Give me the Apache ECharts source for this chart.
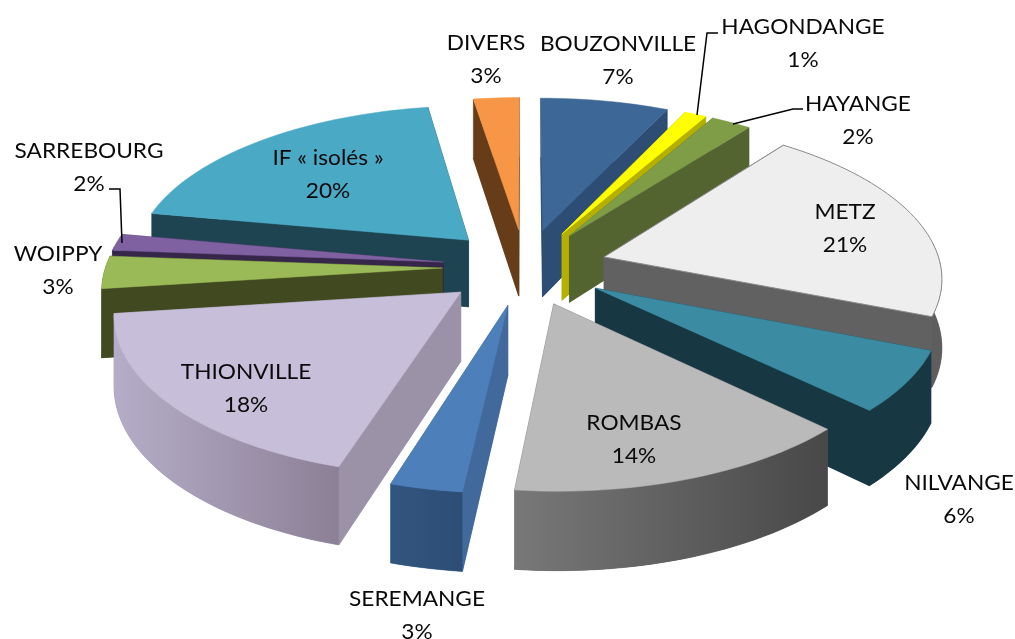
<!DOCTYPE html>
<html><head><meta charset="utf-8">
<style>html,body{margin:0;padding:0;background:#fff}#c{width:1015px;height:639px}</style>
<script src="https://cdn.jsdelivr.net/npm/echarts@6/dist/echarts.min.js"></script>
</head><body><div id="c"></div>
<script>
const categories = ['BOUZONVILLE','HAGONDANGE','HAYANGE','METZ','NILVANGE','ROMBAS','SEREMANGE','THIONVILLE','WOIPPY','SARREBOURG','IF « isolés »','DIVERS'];
const shares = [7,1.2,2.2,20.7,6.2,14.49,3,18.2,3.3,1.7,19.6,2.5];
const topColors = ['#3d6797','#ffff00','#7f9c47','#eeeeee','#3b8ca3','#bababa','#4d7fbb','#c7bfd9','#9aba58','#7f60a1','#4aaac5','#f79647'];
const wallColors = ['#2d4d75','#b5b000','#546430','#616161','#173743','#555555','#41699b','#9b92a8','#40491f','#35264a','#1e4452','#673c18'];
const rimLeft = ['#2d4d75','#b5b000','#546430','#808080','#173743','#787878','#32557f','#b5adc8','#40491f','#35264a','#1e4452','#673c18'];
const rimRight = ['#2d4d75','#b5b000','#546430','#5e5e5e','#173743','#484848','#2d4d75','#8c8096','#40491f','#35264a','#1e4452','#673c18'];
const labelCentres = [[618,60],[803,43],[858,120],[845,228],[959,499],[634,439],[417,615],[246,388],[58,270],[89,167],[328,174],[486,59]];
const leaders = [[[718,33],[707,33],[697,115]],[[803,109],[793,109],[733,124]],[[109,189],[120,189],[122,243]]];
const view = {cx:525,cy:267,rx:337,ry:156,k:0.117,explode:0.245,depth:68};

function project(X,Y,down){
  const s=1/(1+view.k*Y);
  return [view.cx+view.rx*X*s, view.cy-view.ry*Y*s+(down?view.depth*s:0)];
}
const total = shares.reduce((a,b)=>a+b,0);
let acc=0;
const slices = shares.map((v,i)=>{
  const a0=acc/total*Math.PI*2; acc+=v; const a1=acc/total*Math.PI*2;
  const m=(a0+a1)/2;
  return {i,a0,a1,m,ox:Math.sin(m)*view.explode,oy:Math.cos(m)*view.explode};
});
const order = slices.slice().sort((p,q)=>Math.cos(q.m)-Math.cos(p.m)).map(s=>s.i);

function arcPts(sl,from,to,down){
  const n=Math.max(2,Math.ceil((to-from)/0.03)),pts=[];
  for(let j=0;j<=n;j++){const t=from+(to-from)*j/n;pts.push(project(sl.ox+Math.sin(t),sl.oy+Math.cos(t),down));}
  return pts;
}
function poly(points,fill,z2,extra){
  return Object.assign({type:'polygon',shape:{points},style:{fill,stroke:fill,lineWidth:0.5},z2,silent:true},extra||{});
}
function renderItem(params,api){
  const idx=api.value(1),sl=slices[idx],rank=order.indexOf(idx)*10,children=[];
  const apexT=project(sl.ox,sl.oy,false),apexB=project(sl.ox,sl.oy,true);
  children.push(poly([apexB].concat(arcPts(sl,sl.a0,sl.a1,true)),wallColors[idx],rank));
  const w=[sl.a0,sl.a1].sort((p,q)=>Math.cos(q)-Math.cos(p));
  w.forEach((a,j)=>{
    const e=[sl.ox+Math.sin(a),sl.oy+Math.cos(a)];
    children.push(poly([apexT,project(e[0],e[1],false),project(e[0],e[1],true),apexB],wallColors[idx],rank+1+j));
  });
  const f0=Math.max(sl.a0,Math.PI/2-0.1),f1=Math.min(sl.a1,Math.PI*1.5+0.1);
  if(f1>f0){
    const up=arcPts(sl,f0,f1,false),dn=arcPts(sl,f0,f1,true).reverse();
    const ends=[up[0][0],up[up.length-1][0]];
    const fill=new echarts.graphic.LinearGradient(Math.min(...ends),0,Math.max(...ends),0,
      [{offset:0,color:rimLeft[idx]},{offset:1,color:rimRight[idx]}],true);
    children.push({type:'polygon',shape:{points:up.concat(dn)},style:{fill},z2:rank+4,silent:true});
  }
  children.push(poly([apexT].concat(arcPts(sl,sl.a0,sl.a1,false)),topColors[idx],rank+5,
    idx===3?{style:{fill:topColors[idx],stroke:'#8a8a8a',lineWidth:1}}:null));
  const c=labelCentres[idx];
  children.push({type:'text',x:c[0],y:c[1],scaleX:1.03,z2:1000,silent:true,
    style:{text:categories[idx]+'\n'+Math.round(api.value(0))+'%',fill:'#0a0a0a',align:'center',verticalAlign:'middle',
      font:'22px Lato, sans-serif',lineHeight:33}});
  if(idx===0){
    leaders.forEach((l)=>children.push({type:'polyline',shape:{points:l},z2:999,silent:true,
      style:{fill:'none',stroke:'#000',lineWidth:1.5}}));
  }
  return {type:'group',children};
}
const chart=echarts.init(document.getElementById('c'),null,{renderer:'canvas'});
chart.setOption({
  animation:false,backgroundColor:'#fff',
  series:[{type:'custom',coordinateSystem:'none',renderItem,clip:false,
    data:shares.map((v,i)=>({name:categories[i],value:[v,i]}))}]
});
</script></body></html>
